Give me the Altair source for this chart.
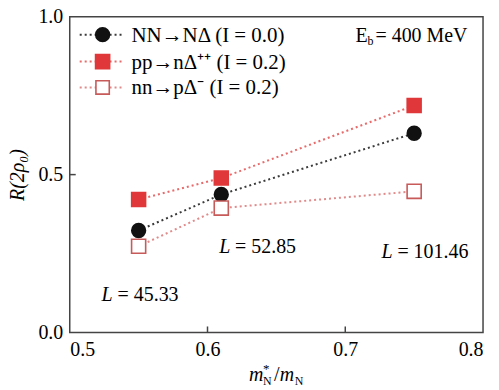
import altair as alt
import pandas as pd

FONT = "Liberation Serif"

# ---- data ----
x_vals = [0.55, 0.61, 0.75]
series_names = ["NN→NΔ (I = 0.0)", "pp→nΔ⁺⁺ (I = 0.2)", "nn→pΔ⁻ (I = 0.2)"]
nn_vals = [0.323, 0.437, 0.631]
pp_vals = [0.421, 0.489, 0.719]
nnm_vals = [0.273, 0.394, 0.447]

x_ticks = [0.5, 0.6, 0.7, 0.8]
y_ticks = [0.0, 0.5, 1.0]
x_inner_ticks = [0.6, 0.7]
y_inner_ticks = [0.5]

line_colors = ["#3a3a3a", "#e86a6a", "#e08a8a"]
fill_colors = ["#111111", "#e0383a", "#ffffff"]
stroke_colors = ["#111111", "#e0383a", "#c85a5a"]
shapes = ["circle", "square", "square"]
sizes = [190, 200, 180]

rows = []
for name, vals in zip(series_names, [nn_vals, pp_vals, nnm_vals]):
    for x, y in zip(x_vals, vals):
        rows.append({"series": name, "x": x, "y": y})
df = pd.DataFrame(rows)

W, H = 415, 317
xscale = alt.Scale(domain=[0.5, 0.8], nice=False, zero=False)
yscale = alt.Scale(domain=[0.0, 1.0], nice=False)
xaxis = alt.Axis(values=x_ticks, format=".1f", title=None,
                 labelFont=FONT, labelFontSize=20, labelColor="black", labelPadding=7)
yaxis = alt.Axis(values=y_ticks, format=".1f", title="R(2ρ₀)",
                 labelFont=FONT, labelFontSize=20, labelColor="black", labelPadding=7,
                 titleFont=FONT, titleFontSize=20, titleColor="black", titleFontStyle="italic",
                 titleFontWeight="normal", titlePadding=10)

base = alt.Chart(df)

lines = base.mark_line(strokeDash=[2, 3], strokeWidth=2).encode(
    x=alt.X("x:Q", scale=xscale, axis=xaxis),
    y=alt.Y("y:Q", scale=yscale, axis=yaxis),
    color=alt.Color("series:N", scale=alt.Scale(domain=series_names, range=line_colors), legend=None),
    detail="series:N",
)

points = base.mark_point(opacity=1, strokeWidth=1.6).encode(
    x=alt.X("x:Q", scale=xscale, axis=xaxis),
    y=alt.Y("y:Q", scale=yscale, axis=yaxis),
    shape=alt.Shape("series:N", scale=alt.Scale(domain=series_names, range=shapes), legend=None),
    fill=alt.Fill("series:N", scale=alt.Scale(domain=series_names, range=fill_colors), legend=None),
    stroke=alt.Stroke("series:N", scale=alt.Scale(domain=series_names, range=stroke_colors), legend=None),
    size=alt.Size("series:N", scale=alt.Scale(domain=series_names, range=sizes), legend=None),
)

xt = alt.Chart(pd.DataFrame({"x": x_inner_ticks})).mark_rule(color="#444444", strokeWidth=1.5).encode(
    x=alt.X("x:Q", scale=xscale, axis=xaxis), y=alt.value(H), y2=alt.value(H - 6))
yt = alt.Chart(pd.DataFrame({"y": y_inner_ticks})).mark_rule(color="#444444", strokeWidth=1.5).encode(
    y=alt.Y("y:Q", scale=yscale, axis=yaxis), x=alt.value(0), x2=alt.value(6))


def txt(s, x, y, size=20, style="normal", align="left"):
    return alt.Chart(pd.DataFrame({"t": [s]})).mark_text(
        font=FONT, fontSize=size, fontStyle=style, align=align,
        baseline="alphabetic", color="black").encode(
        x=alt.value(x), y=alt.value(y), text="t:N")


one = pd.DataFrame({"a": [0]})
legend_layers = []
leg_y = [18, 45, 71]
for i, name in enumerate(series_names):
    yy = leg_y[i]
    legend_layers.append(
        alt.Chart(one).mark_rule(strokeDash=[2, 3], strokeWidth=2, color=line_colors[i]).encode(
            x=alt.value(10), x2=alt.value(54), y=alt.value(yy)))
    legend_layers.append(
        alt.Chart(one).mark_point(shape=shapes[i], size=sizes[i], opacity=1, strokeWidth=1.6,
                                  fill=fill_colors[i], stroke=stroke_colors[i]).encode(
            x=alt.value(33), y=alt.value(yy)))
    legend_layers.append(txt(name, 62, yy + 7, size=21))

annotations = [
    txt("E", 287, 25),
    txt("b", 299, 28, size=12),
    txt("= 400 MeV", 307, 25),
    txt("L", 32, 285, style="italic"),
    txt("= 45.33", 48, 285),
    txt("L", 150, 237, style="italic"),
    txt("= 52.85", 166, 237),
    txt("L", 313, 242, style="italic"),
    txt("= 101.46", 329, 242),
    # x-axis title m*_N / m_N
    txt("m", 180, 366, style="italic"),
    txt("*", 194, 358, size=13),
    txt("N", 194, 370, size=12),
    txt("/", 205, 366),
    txt("m", 211, 366, style="italic"),
    txt("N", 226, 370, size=12),
]

chart = alt.layer(lines, points, xt, yt, *legend_layers, *annotations).properties(
    width=W, height=H,
    autosize=alt.AutoSizeParams(type="none"),
    padding={"left": 62, "top": 8, "right": 8, "bottom": 60},
).configure(
    background="white", font=FONT
).configure_view(
    stroke="#444444", strokeWidth=1.5
).configure_axis(
    grid=False, domain=False, ticks=False,
    labelFont=FONT, titleFont=FONT,
)

chart.save("out.html", embed_options={"renderer": "svg", "actions": False})
